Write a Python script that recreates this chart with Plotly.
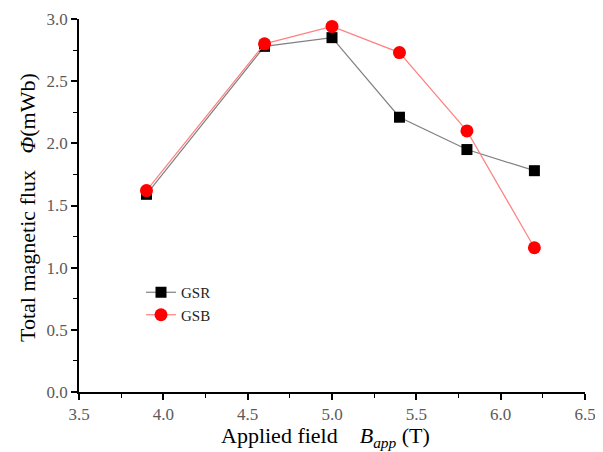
import plotly.graph_objects as go

field = [3.9, 4.6, 5.0, 5.4, 5.8, 6.2]
gsr = [1.59, 2.78, 2.85, 2.21, 1.95, 1.78]
gsb = [1.62, 2.80, 2.94, 2.73, 2.10, 1.16]
x_ticks = [3.5, 4.0, 4.5, 5.0, 5.5, 6.0, 6.5]
y_ticks = [0.0, 0.5, 1.0, 1.5, 2.0, 2.5, 3.0]

fig = go.Figure()
fig.add_trace(go.Scatter(x=field, y=gsr, name="GSR", mode="lines+markers",
                         line=dict(color="#808080", width=1.2),
                         marker=dict(symbol="square", size=11, color="black")))
fig.add_trace(go.Scatter(x=field, y=gsb, name="GSB", mode="lines+markers",
                         line=dict(color="#ff8080", width=1.2),
                         marker=dict(symbol="circle", size=13, color="red")))

tickfont = dict(family="Liberation Serif", size=17, color="#5a5a5a")
titlefont = dict(family="Liberation Serif", size=22, color="black")

# page body has an 8px margin: work in screen coords and shift
OFF = 8
W, H = 603 - OFF, 452 - OFF
left, right, top, bottom = 79 - OFF, 585 - OFF, 19 - OFF, 392 - OFF
L, R, T, B = left, W - right, top, H - bottom
pw, ph = right - left, bottom - top

def px(sx):
    return (sx - OFF - left) / pw

def py(sy):
    return (bottom - (sy - OFF)) / ph

fig.update_layout(
    width=W, height=H,
    margin=dict(l=L, r=R, t=T, b=B),
    plot_bgcolor="white", paper_bgcolor="white",
    showlegend=True,
    legend=dict(x=px(141), y=py(276), xanchor="left", yanchor="top",
                font=dict(family="Liberation Serif", size=15, color="#222222"),
                bgcolor="rgba(0,0,0,0)", tracegroupgap=0, itemwidth=30),
    xaxis=dict(range=[3.5, 6.5], tickvals=x_ticks, ticktext=[f"{v:.1f}" for v in x_ticks],
               showline=True, linecolor="black", linewidth=1.6, showgrid=False, zeroline=False,
               automargin=False,
               ticks="outside", ticklen=6, tickwidth=1.6, tickcolor="black", tickfont=tickfont,
               minor=dict(tickvals=[3.75, 4.25, 4.75, 5.25, 5.75, 6.25], ticks="outside",
                          ticklen=4, tickwidth=1.3, tickcolor="black")),
    yaxis=dict(range=[0, 3.0], tickvals=y_ticks, ticktext=[f"{v:.1f}" for v in y_ticks],
               showline=True, linecolor="black", linewidth=1.6, showgrid=False, zeroline=False,
               automargin=False,
               ticks="outside", ticklen=6, tickwidth=1.6, tickcolor="black", tickfont=tickfont,
               minor=dict(tickvals=[0.25, 0.75, 1.25, 1.75, 2.25, 2.75], ticks="outside",
                          ticklen=4, tickwidth=1.3, tickcolor="black")),
    annotations=[
        dict(text="Applied field &nbsp;&nbsp;&nbsp;<i>B<sub>app</sub></i> (T)",
             xref="paper", yref="paper", x=px(325), y=py(437),
             xanchor="center", yanchor="middle", showarrow=False, font=titlefont),
        dict(text="Total magnetic flux &nbsp;&nbsp;<i>Φ</i>(mWb)",
             xref="paper", yref="paper", x=px(27), y=py(208),
             xanchor="center", yanchor="middle", showarrow=False, textangle=-90, font=titlefont),
    ],
)

fig.write_html("out.html")
